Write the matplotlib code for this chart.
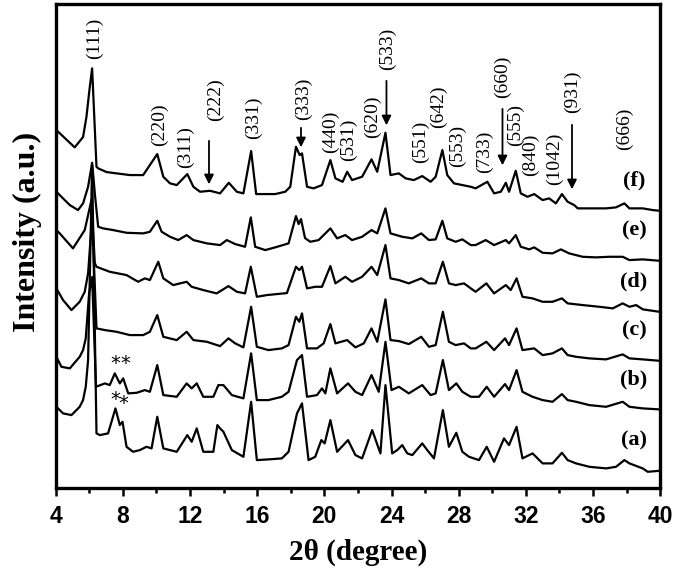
import matplotlib
matplotlib.use('Agg')
import matplotlib.pyplot as plt

# XRD patterns, (2theta, intensity); intensity is already stacked (a.u.)
trace_a = [(4.04, 81.3), (4.44, 74.7), (4.94, 73), (5.43, 81.3), (5.63, 88), (5.79, 101.3), (5.93, 128),
           (6.17, 323), (6.43, 54.7), (6.63, 53), (7.12, 54.7), (7.56, 79.7), (7.82, 63), (7.98, 66.3),
           (8.22, 41.3), (8.61, 36.3), (9.01, 38), (9.41, 41.3), (9.71, 39.7), (10.05, 71.3), (10.41, 39.7),
           (11.21, 36.3), (11.84, 53), (12.10, 46.3), (12.40, 59.7), (12.79, 36.3), (13.39, 36.3),
           (13.63, 63), (13.79, 59.7), (13.99, 56.3), (14.49, 38), (15.18, 31.3), (15.64, 86.3),
           (15.98, 28), (16.67, 28.7), (17.47, 29.7), (17.87, 36.3), (18.37, 74.7), (18.67, 84.7),
           (19.06, 28), (19.46, 31.3), (19.82, 48), (20.02, 44.7), (20.36, 68), (20.76, 36.3),
           (21.41, 48), (21.85, 33), (22.25, 29.7), (22.85, 58), (23.34, 34.7), (23.64, 103),
           (24.04, 34.7), (24.34, 38), (24.64, 43), (24.94, 34.7), (25.24, 33), (25.83, 44.7),
           (26.13, 38), (26.53, 29.7), (27.06, 78), (27.42, 41.3), (27.86, 55.3), (28.22, 36.3),
           (28.62, 31.3), (29.21, 28), (29.67, 41.3), (30.11, 26.3), (30.70, 49.7), (31.00, 43),
           (31.45, 61.3), (31.80, 29.7), (32.40, 34.7), (33.00, 24.7), (33.59, 24.7), (34.15, 35.3),
           (34.49, 28), (34.99, 24.7), (35.78, 21.3), (36.78, 19.7), (37.37, 21.3), (37.87, 28),
           (38.17, 24.7), (38.96, 19.7), (39.26, 16.3), (39.96, 17.3)]

trace_b = [(4.04, 131.3), (4.34, 121.3), (4.84, 119.7), (5.43, 131.3), (5.63, 138), (5.79, 149.7),
           (5.99, 194.7), (6.17, 211), (6.40, 101.3), (6.93, 104.7), (7.22, 103), (7.52, 114.7),
           (7.82, 104.7), (8.02, 109.7), (8.32, 94.7), (8.82, 95.3), (9.31, 98), (9.61, 96.3),
           (10.05, 123), (10.41, 93), (11.21, 91.3), (11.80, 104.7), (12.10, 99.7), (12.40, 104.7),
           (12.79, 91.3), (13.39, 91.3), (13.69, 103), (13.99, 103), (14.49, 93), (15.18, 89.7),
           (15.64, 134.7), (15.98, 88), (16.67, 88), (17.47, 91.3), (17.87, 96.3), (18.37, 128),
           (18.67, 133), (18.97, 91.3), (19.56, 93), (19.86, 99.7), (20.06, 94.7), (20.36, 119.7),
           (20.76, 94.7), (21.41, 104.7), (21.85, 96.3), (22.25, 93), (22.81, 113), (23.24, 96.3),
           (23.64, 146.3), (24.00, 98), (24.44, 101.3), (25.03, 94.7), (25.83, 103), (26.33, 93),
           (26.63, 94.7), (27.06, 128), (27.42, 98), (27.86, 104.7), (28.22, 96.3), (28.72, 91.3),
           (29.21, 91.3), (29.67, 101.3), (30.11, 91.3), (30.76, 104), (31.00, 98), (31.45, 118),
           (31.80, 96.3), (32.40, 91.3), (33.00, 88), (33.59, 86.3), (34.15, 94), (34.49, 88),
           (34.99, 86.3), (35.78, 83), (36.78, 81.3), (37.77, 86.3), (38.17, 81.3), (38.96, 79.7),
           (39.96, 78.7)]

trace_c = [(4.04, 199.7), (4.44, 188), (4.94, 178), (5.43, 186.3), (5.73, 196.3), (5.93, 214.7),
           (6.17, 271), (6.43, 159.7), (6.93, 158), (7.62, 156.3), (8.42, 153), (9.21, 153),
           (9.61, 156.3), (10.05, 173), (10.41, 151.3), (11.21, 148), (11.80, 156.3), (12.20, 148),
           (13.00, 146.3), (13.79, 142), (14.29, 149.7), (14.69, 144.7), (15.18, 140.7), (15.64, 181.3),
           (15.98, 141.3), (16.67, 138), (17.47, 139.7), (17.87, 143), (18.31, 171.3), (18.51, 166.3),
           (18.67, 174.7), (18.97, 139.7), (19.56, 139.7), (19.96, 144.7), (20.36, 164), (20.66, 144.7),
           (21.36, 148), (21.85, 140.7), (22.35, 144.7), (22.81, 159.7), (23.15, 146.3), (23.64, 188.7),
           (23.94, 148), (24.44, 147), (25.03, 144), (25.77, 151.3), (26.23, 141.3), (26.63, 143),
           (27.06, 176.3), (27.42, 146.3), (27.82, 143), (28.32, 144.7), (28.72, 139.7), (29.01, 139.7),
           (29.65, 146.3), (30.11, 138), (30.76, 149.7), (31.00, 143), (31.45, 159.7), (31.80, 138),
           (32.50, 139.7), (33.00, 133), (33.59, 134.7), (34.15, 139.7), (34.49, 133), (34.99, 131.3),
           (35.78, 129.7), (36.78, 128.7), (37.77, 133.7), (38.17, 129.7), (38.96, 128.7), (39.96, 127.3)]

trace_d = [(4.04, 258), (4.24, 254.7), (5.03, 239.7), (5.73, 258), (6.13, 288), (6.33, 225), (6.43, 221.3),
           (7.22, 216.3), (8.22, 213), (8.91, 206.3), (9.31, 209.7), (9.61, 208), (10.11, 226.3),
           (10.41, 209.7), (11.00, 203), (11.80, 206.3), (12.10, 201.3), (12.79, 198), (13.59, 194.7),
           (14.29, 202), (14.79, 196.3), (15.28, 194.7), (15.62, 221.3), (15.98, 191.3), (16.58, 193),
           (17.77, 195), (18.31, 221.3), (18.51, 218), (18.67, 221.3), (18.97, 199.7), (19.46, 201.3),
           (19.86, 201.3), (20.36, 222), (20.66, 204.7), (21.25, 211.3), (21.65, 206.3), (22.25, 211.3),
           (22.81, 221.3), (23.15, 213), (23.64, 243), (23.94, 209.7), (24.44, 208), (25.03, 204.7),
           (25.77, 209.7), (26.23, 204.7), (26.63, 204.7), (27.06, 226.3), (27.42, 204.7), (27.82, 203),
           (28.32, 204.7), (28.72, 199.7), (29.01, 196.3), (29.65, 204.7), (30.11, 194.7), (30.81, 203),
           (31.10, 198), (31.45, 209.7), (31.80, 191.3), (32.40, 189.7), (33.00, 186.3), (33.59, 186.3),
           (34.15, 189.7), (34.49, 184.7), (35.39, 183), (36.38, 181.3), (37.18, 179.7), (37.77, 184.7),
           (38.17, 181.3), (38.57, 183), (38.97, 178.7), (39.96, 176.3)]

trace_e = [(4.04, 296.3), (4.84, 283), (5.33, 278), (5.63, 284.7), (5.93, 301.3), (6.17, 325.3),
           (6.33, 294.7), (6.53, 261.3), (6.82, 259.7), (7.42, 258), (8.22, 255.3), (9.21, 254.7),
           (9.61, 256.3), (10.05, 267.3), (10.31, 256.3), (10.81, 251.3), (11.30, 248), (11.80, 253),
           (12.20, 248), (13.00, 244.7), (13.79, 243), (14.19, 248), (14.69, 244), (15.28, 241.3),
           (15.62, 270.7), (15.88, 241.3), (16.48, 238), (17.07, 240.7), (17.87, 244.7), (18.31, 272),
           (18.47, 264), (18.61, 269), (18.85, 250), (19.16, 246.3), (19.66, 248), (20.36, 259.7),
           (20.76, 249.7), (21.25, 253), (21.65, 248), (22.25, 251.3), (22.81, 258), (23.15, 254.7),
           (23.64, 279.7), (23.94, 254.7), (24.64, 251.3), (25.24, 249.7), (25.77, 254.7), (26.23, 248),
           (26.63, 248.7), (27.03, 267.3), (27.32, 249.7), (27.82, 246.3), (28.22, 248.7), (28.72, 243),
           (29.01, 243), (29.61, 248), (30.11, 243), (30.81, 248), (31.00, 244.7), (31.40, 253),
           (31.70, 241.3), (32.20, 238.7), (32.50, 240.7), (33.00, 235.3), (33.59, 234.7), (34.09, 238.7),
           (34.58, 234.7), (35.38, 231.3), (36.18, 230.7), (36.97, 231.3), (37.77, 231.3), (38.17, 228),
           (38.96, 228.7), (39.96, 227.3)]

trace_f = [(4.04, 358), (5.13, 340.7), (5.63, 351), (5.83, 371), (6.03, 401), (6.17, 419.7), (6.43, 321.3),
           (6.53, 319.7), (7.03, 316), (7.62, 314.7), (8.42, 313), (9.21, 313), (10.05, 334), (10.41, 311.3),
           (10.81, 304.7), (11.21, 303), (11.84, 314), (12.20, 301.3), (12.60, 296.3), (13.19, 297.3),
           (13.79, 294.7), (14.31, 305.3), (14.79, 296.3), (15.18, 294.7), (15.64, 337), (15.94, 294),
           (16.48, 294), (17.07, 294), (17.67, 296.3), (17.97, 301.3), (18.31, 341.3), (18.53, 333),
           (18.67, 334.7), (18.97, 301.3), (19.36, 299.7), (19.86, 303), (20.36, 328), (20.66, 309.7),
           (21.09, 306.3), (21.36, 316.3), (21.65, 308), (22.25, 311.3), (22.81, 328.7), (23.15, 316.3),
           (23.64, 355.3), (23.94, 313), (24.44, 314.7), (24.84, 309.7), (25.33, 308), (25.83, 312),
           (26.33, 306.3), (26.63, 311.3), (27.03, 338), (27.32, 313), (27.72, 304.7), (28.22, 303),
           (28.72, 301.3), (29.01, 299.7), (29.71, 306.3), (30.11, 294.7), (30.51, 296.3), (30.81, 305.3),
           (31.00, 296.3), (31.40, 317.3), (31.70, 294.7), (32.10, 291.3), (32.50, 294), (33.00, 288),
           (33.39, 289.7), (33.79, 284.7), (34.15, 294), (34.49, 286.3), (34.88, 283), (35.09, 279.7),
           (35.78, 279.7), (36.78, 279.7), (37.37, 280.7), (37.87, 284.7), (38.17, 279.7), (38.96, 279.7),
           (39.56, 278), (39.96, 277.3)]

traces = [trace_a, trace_b, trace_c, trace_d, trace_e, trace_f]
sample_names = ['(a)', '(b)', '(c)', '(d)', '(e)', '(f)']

# reflection labels: hkl, 2theta, height of label centre
hkl_names = ['(111)', '(220)', '(311)', '(222)', '(331)', '(333)', '(440)', '(531)', '(620)', '(533)',
             '(551)', '(642)', '(553)', '(733)', '(660)', '(555)', '(840)', '(1042)', '(931)', '(666)']
hkl_tth = [6.29, 10.17, 11.70, 13.49, 15.78, 18.76, 20.36, 21.45, 22.85, 23.74,
           25.73, 26.82, 27.92, 29.55, 30.61, 31.40, 32.30, 33.69, 34.79, 37.87]
hkl_h = [450, 363, 341, 388, 370, 389, 356, 348, 371, 439,
         346, 381, 342, 336, 411, 363, 333, 329, 396, 359]

# arrows pointing at weak reflections: 2theta, start height, end height
arrow_tth = [13.13, 18.61, 23.70, 30.61, 34.75]
arrow_top = [350, 363, 410, 382, 366]
arrow_end = [301, 338, 360, 320, 296]

serif = 'Liberation Serif'

fig = plt.figure(figsize=(6.75, 5.79), dpi=100)
ax = fig.add_axes([0.0825, 0.157, 0.8955, 0.836])

for tr in traces:
    x, y = zip(*tr)
    ax.plot(x, y, color='black', lw=1.6, solid_joinstyle='round')

# sample labels on the right
for name, tr in zip(sample_names, traces):
    ax.text(38.45, tr[-1][1] + 30, name, fontsize=16, fontweight='bold', family=serif,
            ha='center', va='center')

for name, t, h in zip(hkl_names, hkl_tth, hkl_h):
    ax.text(t, h, name, rotation=90, fontsize=14, family=serif, ha='center', va='center')

for t, y0, y1 in zip(arrow_tth, arrow_top, arrow_end):
    ax.annotate('', xy=(t, y1), xytext=(t, y0),
                arrowprops=dict(arrowstyle='-|>', color='black', lw=1.3, mutation_scale=14))

# impurity marks
ax.text(7.55, 125, '*', fontsize=14, ha='center', va='center')
ax.text(8.15, 125, '*', fontsize=14, ha='center', va='center')
ax.text(7.55, 89, '*', fontsize=14, ha='center', va='center')
ax.text(8.05, 85, '*', fontsize=14, ha='center', va='center')

ax.set_xlim(4, 40)
ax.set_ylim(0, 484)
ax.set_xticks(range(4, 41, 4))
ax.set_xticks(range(6, 40, 4), minor=True)
ax.set_yticks([])
ax.tick_params(axis='x', which='major', direction='out', length=6, width=1.8, pad=6)
ax.tick_params(axis='x', which='minor', direction='out', length=3.5, width=1.8)
for lab in ax.get_xticklabels():
    lab.set_fontfamily('Liberation Sans')
    lab.set_fontweight('bold')
    lab.set_fontsize(16.5)
for sp in ax.spines.values():
    sp.set_linewidth(2.4)

ax.set_xlabel('2θ (degree)', fontsize=21, fontweight='bold', family=serif, labelpad=8)
ax.set_ylabel('Intensity (a.u.)', fontsize=23, fontweight='bold', family=serif)
ax.yaxis.set_label_coords(-0.023, 0.53)

plt.savefig('out.png', dpi=100)
